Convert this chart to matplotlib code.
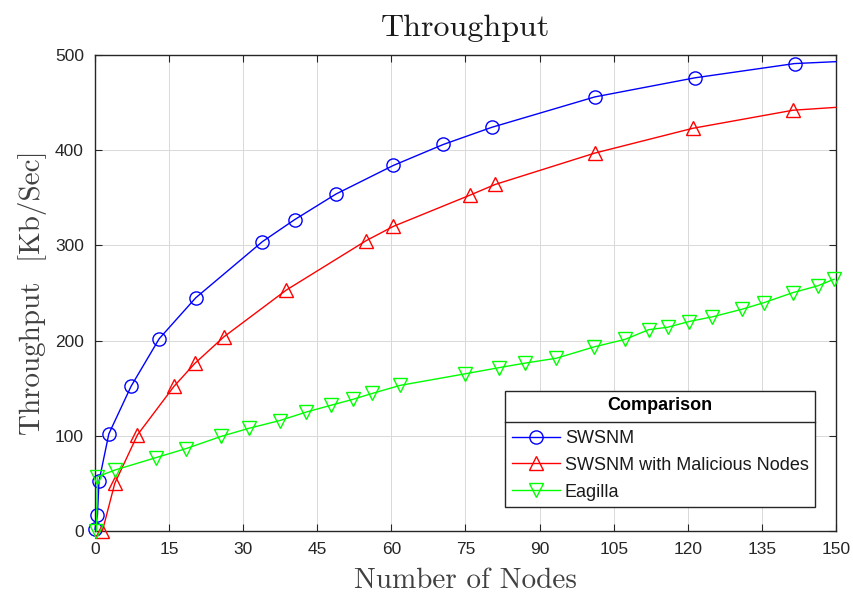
"""Throughput vs number of nodes: SWSNM, SWSNM with malicious nodes, Eagilla."""

import matplotlib
matplotlib.use("Agg")
import matplotlib.pyplot as plt
from matplotlib.lines import Line2D

# data (last blue/red point = line end at x=150, no marker)
swsnm_x = [0, 0.5, 0.8, 2.8, 7.3, 13.0, 20.4, 33.9, 40.4, 48.8, 60.4, 70.5,
           80.3, 101.2, 121.4, 141.6, 150]
swsnm_y = [2, 17, 52, 102, 152, 202, 245, 304, 327, 354, 384, 406,
           424, 456, 476, 491, 493]

malicious_x = [1.5, 4.0, 8.6, 16.0, 20.2, 26.1, 38.7, 54.9, 60.4, 76.0, 81.0,
               101.2, 121.0, 141.3, 150]
malicious_y = [0, 50, 101, 152, 176, 204, 253, 305, 320, 353, 364,
               397, 423, 442, 445]

eagilla_x = [0.3, 0.5, 4.0, 12.3, 18.4, 25.6, 31.1, 37.4, 42.8, 47.7, 52.2,
             56.1, 61.8, 74.8, 81.7, 87.0, 93.4, 101.1, 107.3, 112.1, 115.9,
             120.2, 125.0, 131.0, 135.5, 141.2, 146.3, 149.6]
eagilla_y = [0, 57, 64, 77, 86.5, 99.5, 107.8, 116, 125, 132, 138.3,
             144.5, 153, 165, 171.5, 176.3, 181.5, 193.5, 201.3, 211.5, 214,
             220, 225, 233, 240, 250.3, 257.5, 264.5]

x_ticks = list(range(0, 151, 15))
y_ticks = list(range(0, 501, 100))

series = [
    ("SWSNM", swsnm_x, swsnm_y, "o", "#0000ff", True),
    ("SWSNM with Malicious Nodes", malicious_x, malicious_y, "^", "#ff0000", True),
    ("Eagilla", eagilla_x, eagilla_y, "v", "#00ff00", False),
]

SERIF = "cmr10"
SANS = "Liberation Sans"
AXIS_GRAY = "#262626"

fig = plt.figure(figsize=(8.54, 5.99), dpi=100)
ax = fig.add_axes([95 / 854, 1 - 531 / 599, (836 - 95) / 854, (531 - 55) / 599])

for label, xs, ys, marker, color, end_only in series:
    # the line end at x=150 carries no marker in the original
    every = list(range(len(xs) - 1)) if end_only else None
    ax.plot(xs, ys, color=color, marker=marker, markersize=9.5, markevery=every,
            markerfacecolor="none", markeredgecolor=color, markeredgewidth=1.0,
            linewidth=1.0, label=label, clip_on=False, zorder=3)

ax.set_xlim(0, 150)
ax.set_ylim(0, 500)
ax.set_xticks(x_ticks)
ax.set_yticks(y_ticks)
ax.tick_params(direction="in", length=5, width=0.8, top=True, right=True,
               colors=AXIS_GRAY, labelsize=12.5, pad=8)
for lab in ax.get_xticklabels() + ax.get_yticklabels():
    lab.set_fontfamily(SANS)
for sp in ax.spines.values():
    sp.set_color(AXIS_GRAY)
    sp.set_linewidth(1.0)
ax.grid(True, color="#d9d9d9", linewidth=0.7)
ax.set_axisbelow(True)

ax.set_title("Throughput", fontfamily=SERIF, fontsize=23, color="#1a1a1a", pad=14)
ax.set_xlabel("Number of Nodes", fontfamily=SERIF, fontsize=21, color="#404040",
              labelpad=7.5)
ax.set_ylabel("Throughput  [Kb/Sec]", fontfamily=SERIF, fontsize=21,
              color="#404040", labelpad=6)

leg = ax.legend(loc="lower right", bbox_to_anchor=(815 / 854, 1 - 507 / 599),
                bbox_transform=fig.transFigure, borderaxespad=0,
                title="Comparison", fancybox=False, framealpha=1,
                edgecolor=AXIS_GRAY, prop={"family": SANS, "size": 13},
                handlelength=2.7, handletextpad=0.25, labelspacing=0.55,
                borderpad=0.35)
leg.set_zorder(5)
leg.get_title().set_fontfamily(SANS)
leg.get_title().set_fontsize(13)
leg.get_title().set_fontweight("bold")
leg.get_frame().set_linewidth(1.0)
for t in leg.get_texts():
    t.set_color("#1a1a1a")
# a bit more room between the title row and the entries
leg._legend_box.sep = 0.55 * 13 + 4

# separator line under the legend title, as in the MATLAB legend box
fig.canvas.draw()
renderer = fig.canvas.get_renderer()
frame_bb = leg.get_frame().get_window_extent(renderer)
title_bb = leg.get_title().get_window_extent(renderer)
first_bb = leg.get_texts()[0].get_window_extent(renderer)
sep_y = (title_bb.y0 + first_bb.y1) / 2 / fig.bbox.height
fig.add_artist(Line2D([frame_bb.x0 / fig.bbox.width, frame_bb.x1 / fig.bbox.width],
                      [sep_y, sep_y], color=AXIS_GRAY, linewidth=1.0, zorder=6))

fig.savefig("out.png", dpi=100)
